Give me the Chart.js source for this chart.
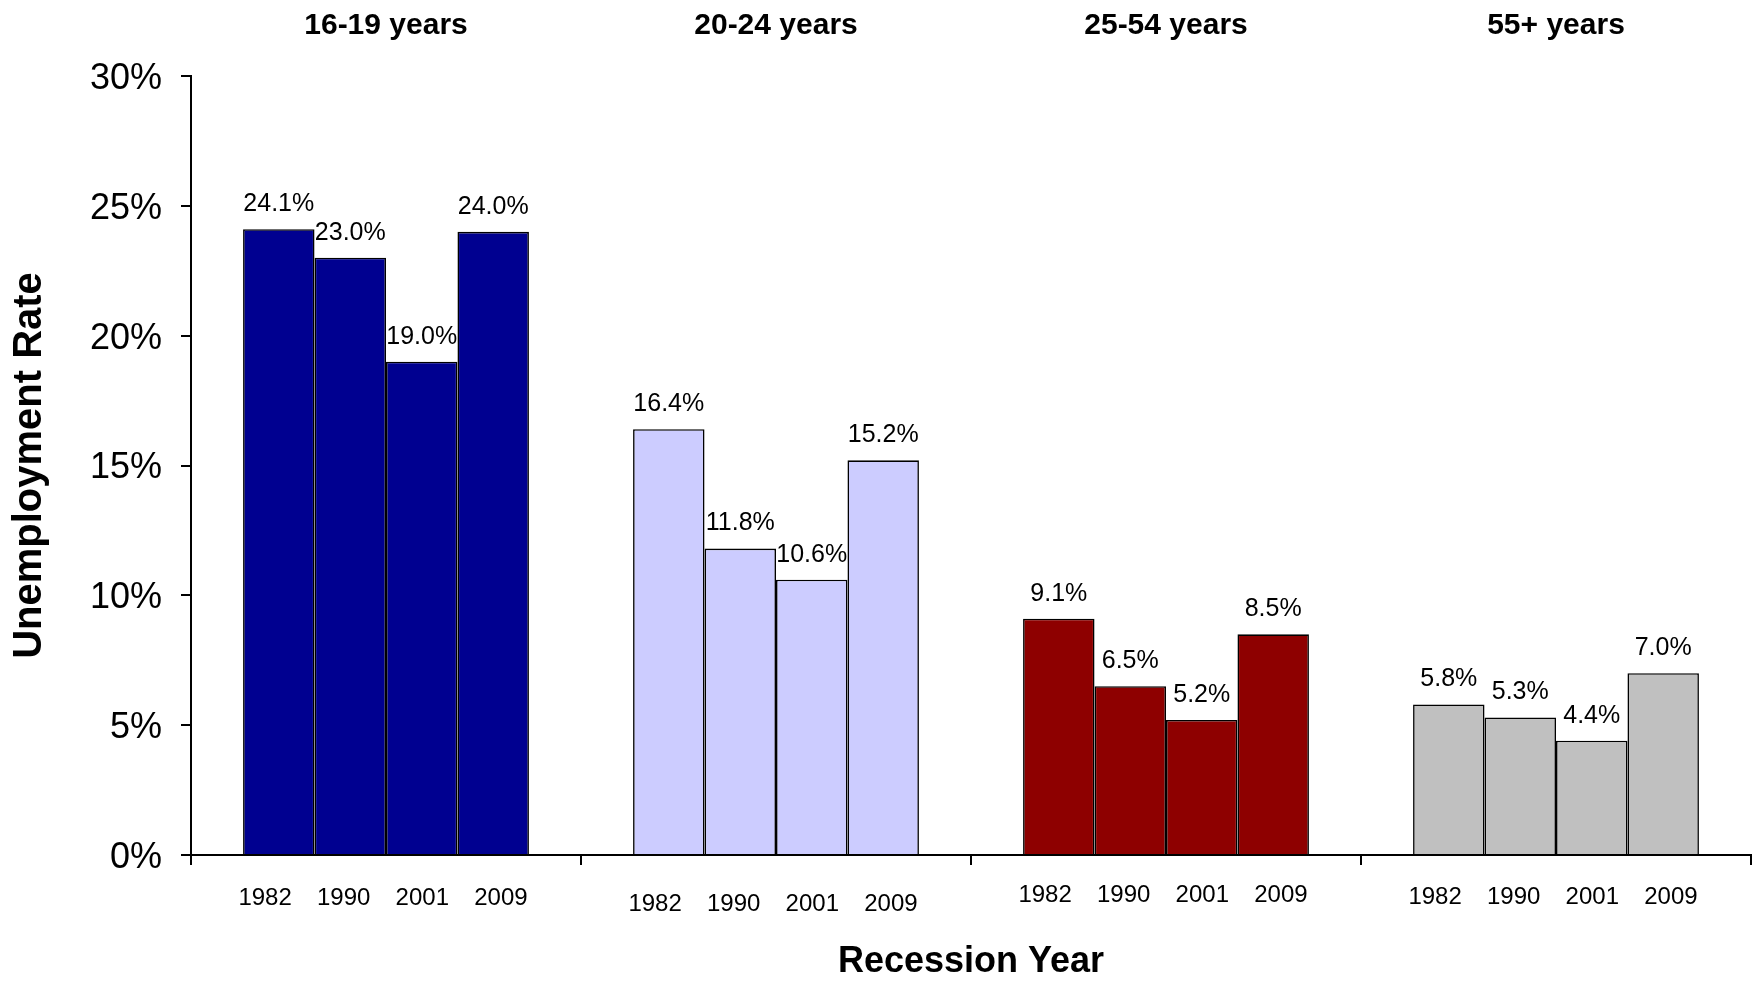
<!DOCTYPE html>
<html>
<head>
<meta charset="utf-8">
<script src="https://cdn.jsdelivr.net/npm/chart.js@4.4.1/dist/chart.umd.min.js"></script>
<style>
  html, body { margin: 0; padding: 0; background: #ffffff; }
  #wrap { width: 1753px; height: 982px; position: relative; }
</style>
</head>
<body>
<div id="wrap"><canvas id="c" width="1753" height="982"></canvas></div>
<script>
// ---- data ----
const groups = ['16-19 years', '20-24 years', '25-54 years', '55+ years'];
const years = ['1982', '1990', '2001', '2009'];
const rate1982 = [24.1, 16.4, 9.1, 5.8];
const rate1990 = [23.0, 11.8, 6.5, 5.3];
const rate2001 = [19.0, 10.6, 5.2, 4.4];
const rate2009 = [24.0, 15.2, 8.5, 7.0];
const yMin = 0, yMax = 30, yStep = 5;

// ---- styles ----
const groupColors = ['#000090', '#CCCCFF', '#8E0000', '#C0C0C0'];
const yearLabelShift = [0, 6, -3, -1]; // small vertical stagger of year labels per group
const FONT = '"Liberation Sans", Arial, sans-serif';

const seriesList = [rate1982, rate1990, rate2001, rate2009];

const datasets = seriesList.map((vals, i) => ({
  label: years[i],
  data: vals,
  backgroundColor: groupColors,
  borderColor: '#000000',
  borderWidth: 1.6,
  borderSkipped: 'start',
  barPercentage: 1.0,
  categoryPercentage: 0.733
}));

const labelPlugin = {
  id: 'labelPlugin',
  afterDraw(chart) {
    const ctx = chart.ctx;
    const xs = chart.scales.x;
    const area = chart.chartArea;
    ctx.save();
    ctx.fillStyle = '#000000';
    ctx.textAlign = 'center';
    ctx.textBaseline = 'middle';
    // group titles
    ctx.font = 'bold 30px ' + FONT;
    groups.forEach((g, j) => {
      ctx.fillText(g, xs.getPixelForValue(j), 26);
    });
    // value labels and year labels
    chart.data.datasets.forEach((ds, di) => {
      const meta = chart.getDatasetMeta(di);
      meta.data.forEach((bar, j) => {
        const v = ds.data[j];
        ctx.font = '25px ' + FONT;
        ctx.fillText(v.toFixed(1) + '%', bar.x, bar.y - 25);
        const cx = xs.getPixelForValue(j);
        const lx = cx + (bar.x - cx) * 1.1 - 3;
        ctx.font = '24px ' + FONT;
        ctx.fillText(years[di], lx, area.bottom + 43 + yearLabelShift[j]);
      });
    });
    ctx.restore();
  }
};

new Chart(document.getElementById('c'), {
  type: 'bar',
  data: { labels: groups, datasets: datasets },
  plugins: [labelPlugin],
  options: {
    responsive: false,
    animation: false,
    layout: { padding: { top: 76, right: 2, left: 0, bottom: 0 } },
    plugins: { legend: { display: false }, tooltip: { enabled: false } },
    scales: {
      x: {
        z: 1,
        offset: true,
        grid: { offset: true, drawOnChartArea: false, drawTicks: true, tickLength: 10, color: '#000000', lineWidth: 2 },
        border: { display: true, color: '#000000', width: 2 },
        ticks: { display: false },
        title: {
          display: true, text: 'Recession Year', color: '#000000',
          font: { family: FONT, size: 36, weight: 'bold', lineHeight: 1 },
          padding: { top: 0, bottom: 2 }
        },
        afterFit(scale) { scale.height = 127; }
      },
      y: {
        min: yMin, max: yMax,
        grid: { drawOnChartArea: false, drawTicks: true, tickLength: 10, color: '#000000', lineWidth: 2 },
        border: { display: true, color: '#000000', width: 2 },
        ticks: {
          stepSize: yStep, color: '#000000', padding: 19, labelOffset: 3,
          font: { family: FONT, size: 36 },
          callback: (v) => v + '%'
        },
        title: {
          display: true, text: 'Unemployment Rate', color: '#000000',
          font: { family: FONT, size: 40, weight: 'bold', lineHeight: 1 },
          padding: { top: 10, bottom: 0 }
        },
        afterFit(scale) { scale.width = 191; }
      }
    }
  }
});
</script>
</body>
</html>
